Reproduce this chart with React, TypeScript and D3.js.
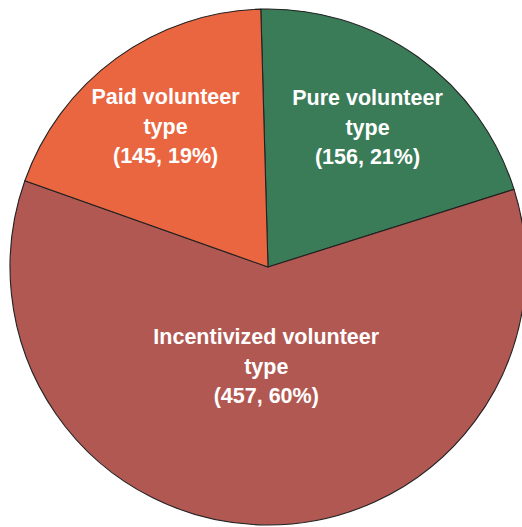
import React, { useEffect, useRef } from 'react';
import * as d3 from 'd3';

const categories = ['Pure volunteer type', 'Incentivized volunteer type', 'Paid volunteer type'];
const counts = [156, 457, 145];
const percents = ['21%', '60%', '19%'];
const labelLines = [
  ['Pure volunteer', 'type'],
  ['Incentivized volunteer', 'type'],
  ['Paid volunteer', 'type'],
];
const colors = ['#3A7C58', '#B25852', '#EA6640'];

const W = 522;
const H = 527;

const App: React.FC = () => {
  const svgRef = useRef<SVGSVGElement>(null);

  useEffect(() => {
    if (!svgRef.current) return;
    const svg = d3.select(svgRef.current);
    svg.selectAll('*').remove();

    const cx = 268;
    const cy = 267;
    const radius = 258;

    const data = categories.map((c, i) => ({ name: c, value: counts[i], i }));

    const pie = d3.pie<any>()
      .value(d => d.value)
      .sort(null)
      .startAngle(-1.6 * Math.PI / 180)
      .endAngle(358.4 * Math.PI / 180);

    const arcs = pie(data);
    const arc = d3.arc<any>().innerRadius(0).outerRadius(radius);

    const g = svg.append('g').attr('transform', `translate(${cx},${cy})`);

    g.selectAll('path')
      .data(arcs)
      .enter().append('path')
      .attr('d', arc)
      .attr('fill', d => colors[d.data.i])
      .attr('stroke', '#222')
      .attr('stroke-width', 1.1)
      .attr('stroke-linejoin', 'round');

    // Excel-like label placement: small slices further out, big slice nearer the middle
    const labelFactor = [0.665, 0.385, 0.675];

    arcs.forEach(a => {
      const mid = (a.startAngle + a.endAngle) / 2;
      const r = radius * labelFactor[a.data.i];
      const lx = Math.sin(mid) * r;
      const ly = -Math.cos(mid) * r;
      const lines = [...labelLines[a.data.i], `(${counts[a.data.i]}, ${percents[a.data.i]})`];
      const lh = 29.5;
      const text = g.append('text')
        .attr('text-anchor', 'middle')
        .attr('fill', '#fff')
        .attr('font-family', '"Liberation Sans", Arial, sans-serif')
        .attr('font-weight', 'bold')
        .attr('font-size', '21.5px');
      lines.forEach((ln, k) => {
        text.append('tspan')
          .attr('x', lx)
          .attr('y', ly + (k - (lines.length - 1) / 2) * lh)
          .attr('dy', '0.35em')
          .text(ln);
      });
    });
  }, []);

  return (
    <div style={{ position: 'fixed', left: 0, top: 0, width: W, height: H, background: '#fff' }}>
      <svg ref={svgRef} width={W} height={H} />
    </div>
  );
};

export default App;
